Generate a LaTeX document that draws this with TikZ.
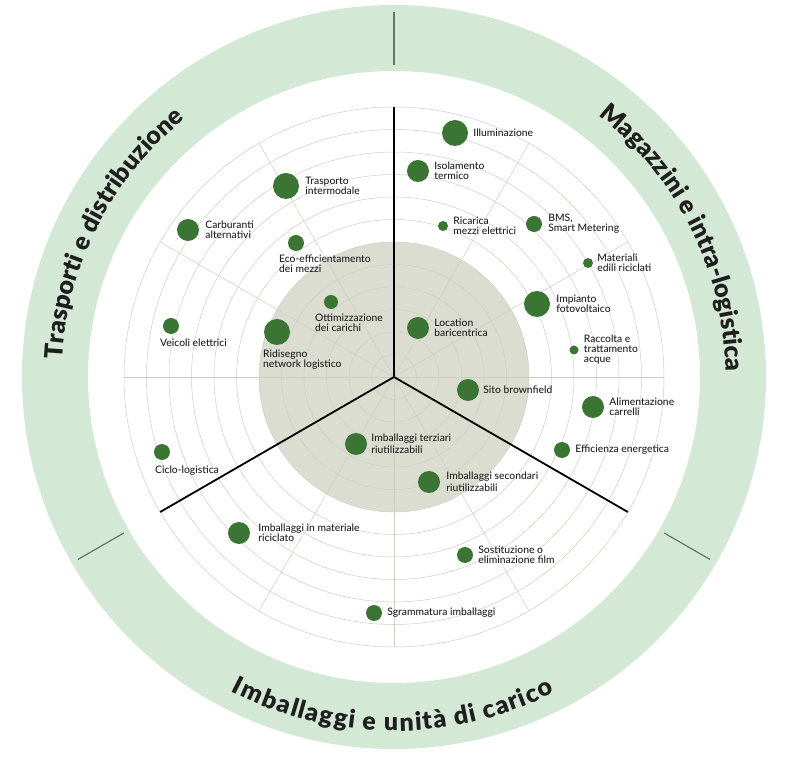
\documentclass[tikz,border=0pt]{standalone}
\usepackage{fontspec}
\setmainfont{Lato}
\IfFontExistsTF{Lato Black}{\newfontfamily\ringfamily{Lato Black}}{\newcommand\ringfamily{\bfseries}}
\IfFontExistsTF{Lato Medium}{\newfontfamily\lblfamily{Lato Medium}}{\newcommand\lblfamily{}}
\usetikzlibrary{positioning,decorations.text}

\definecolor{ringgreen}{RGB}{212,232,214}
\definecolor{coregrey}{RGB}{220,221,209}
\definecolor{dotgreen}{RGB}{58,117,52}
\definecolor{gridgrey}{RGB}{204,207,200}
\definecolor{tickgrey}{RGB}{100,118,100}
\definecolor{inkgrey}{RGB}{30,30,30}

\tikzset{
  spot/.style={circle, fill=dotgreen, inner sep=0pt},
  bigspot/.style={spot, minimum size=26pt},
  midspot/.style={spot, minimum size=22pt},
  smallspot/.style={spot, minimum size=16pt},
  tinyspot/.style={spot, minimum size=10pt},
  lbl/.style={inner sep=0pt, align=left, font=\fontsize{10.3}{10}\selectfont\lblfamily, text=inkgrey},
  gridline/.style={gridgrey, line width=0.5pt},
  divider/.style={black, line width=1.8pt},
  ringtitle/.style={decorate, decoration={text effects along path, text={#1},
    text effects/.cd, text along path, fit text to path,
    characters={font=\fontsize{25}{25}\selectfont\ringfamily, text=inkgrey}}}
}

\begin{document}
\begin{tikzpicture}[x=1pt, y=1pt]
  \useasboundingbox (-394,-385) rectangle (406,377);

  % outer ring with the three sector names
  \fill[ringgreen, even odd rule] (0,0) circle (372) circle (306);
  \foreach \a in {90,210,330}
    \draw[tickgrey, line width=1.2pt] (\a:312) -- (\a:365);
  \path[ringtitle={Trasporti e distribuzione}] (177:332) arc[start angle=177, end angle=129, radius=332];
  \path[ringtitle={Magazzini e intra-logistica}] (52:332) arc[start angle=52, end angle=1, radius=332];
  \path[ringtitle={Imballaggi e unità di carico}] (242.5:354) arc[start angle=242.5, end angle=297, radius=354];

  % grid
  \fill[coregrey] (0,0) circle (135);
  \foreach \k in {1,...,12}
    \draw[gridline] (0,0) circle (22.5*\k);
  \foreach \a in {0,30,60,120,150,180,240,270,300}
    \draw[gridline] (0,0) -- (\a:270);
  \foreach \a in {90,210,330}
    \draw[divider] (0,0) -- (\a:270);

  % magazzini e intra-logistica
  \node[bigspot] (illum) at (61,244) {};
  \node[lbl, right=5pt of illum] (illum-l) {Illuminazione};
  \node[midspot] (isolam) at (24,206) {};
  \node[lbl, right=5pt of isolam] (isolam-l) {Isolamento\\termico};
  \node[tinyspot] (ricarica) at (49,151) {};
  \node[lbl, right=5pt of ricarica] (ricarica-l) {Ricarica\\mezzi elettrici};
  \node[smallspot] (bms) at (140,153) {};
  \node[lbl, right=6pt of bms] (bms-l) {BMS,\\Smart Metering};
  \node[tinyspot] (materiali) at (194,114) {};
  \node[lbl, right=4pt of materiali] (materiali-l) {Materiali\\edili riciclati};
  \node[bigspot] (fotovolt) at (143,73) {};
  \node[lbl, right=6pt of fotovolt] (fotovolt-l) {Impianto\\fotovoltaico};
  \node[midspot] (location) at (24,49) {};
  \node[lbl, right=5pt of location] (location-l) {Location\\baricentrica};
  \node[spot, minimum size=9pt] (acque) at (180,27) {};
  \node[lbl, right=5pt of acque] (acque-l) {Raccolta e\\trattamento\\acque};
  \node[midspot] (brownfield) at (74,-13) {};
  \node[lbl, right=4pt of brownfield] (brownfield-l) {Sito brownfield};
  \node[midspot] (carrelli) at (199,-30) {};
  \node[lbl, right=5pt of carrelli] (carrelli-l) {Alimentazione\\carrelli};
  \node[smallspot] (efficienza) at (168,-73) {};
  \node[lbl, right=5pt of efficienza] (efficienza-l) {Efficienza energetica};

  % imballaggi e unita di carico
  \node[midspot] (secondari) at (35,-105) {};
  \node[lbl, right=6pt of secondari] (secondari-l) {Imballaggi secondari\\[2pt]riutilizzabili};
  \node[smallspot] (film) at (71,-178) {};
  \node[lbl, right=5pt of film] (film-l) {Sostituzione o\\eliminazione film};
  \node[smallspot] (sgramm) at (-20,-236) {};
  \node[lbl, right=5pt of sgramm] (sgramm-l) {Sgrammatura imballaggi};
  \node[midspot] (terziari) at (-38,-67) {};
  \node[lbl, right=4pt of terziari] (terziari-l) {Imballaggi terziari\\[2pt]riutilizzabili};
  \node[midspot] (riciclato) at (-155,-156) {};
  \node[lbl, right=8pt of riciclato] (riciclato-l) {Imballaggi in materiale\\riciclato};

  % trasporti e distribuzione
  \node[smallspot] (ciclo) at (-232,-75) {};
  \node[lbl, below=5pt of ciclo.south, anchor=north west, xshift=-7pt] (ciclo-l) {Ciclo-logistica};
  \node[smallspot] (veicoli) at (-223,51) {};
  \node[lbl, below=5pt of veicoli.south, anchor=north west, xshift=-11pt] (veicoli-l) {Veicoli elettrici};
  \node[bigspot] (network) at (-117,45) {};
  \node[lbl, below=5pt of network.south, anchor=north west, xshift=-14pt] (network-l) {Ridisegno\\network logistico};
  \node[spot, minimum size=14pt] (carichi) at (-63,75) {};
  \node[lbl, below=5pt of carichi.south, anchor=north west, xshift=-16pt] (carichi-l) {Ottimizzazione\\dei carichi};
  \node[smallspot] (ecoeff) at (-98,134) {};
  \node[lbl, below=4pt of ecoeff.south, anchor=north west, xshift=-17pt] (ecoeff-l) {Eco-efficientamento\\dei mezzi};
  \node[midspot] (carburanti) at (-206,147) {};
  \node[lbl, right=6pt of carburanti] (carburanti-l) {Carburanti\\alternativi};
  \node[bigspot] (intermod) at (-108,191) {};
  \node[lbl, right=6pt of intermod] (intermod-l) {Trasporto\\intermodale};
\end{tikzpicture}
\end{document}
